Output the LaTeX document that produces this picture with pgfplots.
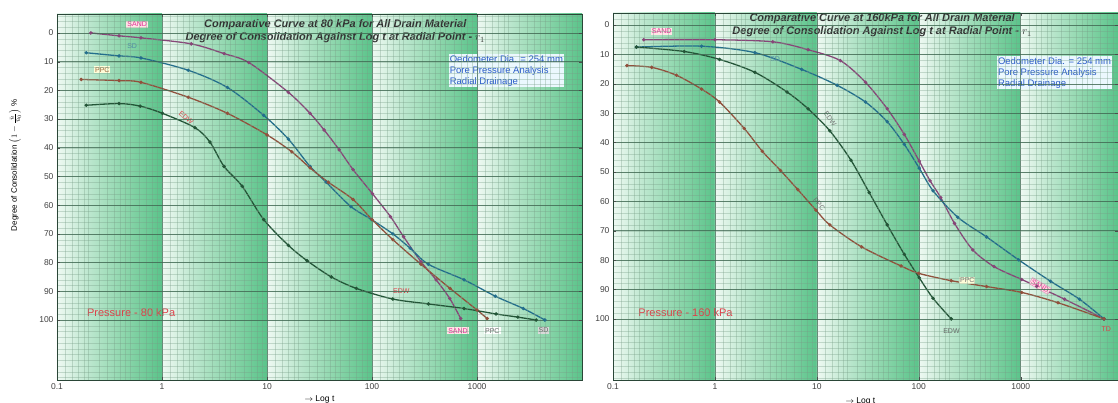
\documentclass[border=0pt]{standalone}
\usepackage{pgfplots}
\pgfplotsset{compat=1.18}
\usepackage{fontspec}
\setmainfont{Liberation Sans}
\definecolor{bandL}{RGB}{238,249,242}
\definecolor{bandM}{RGB}{188,231,206}
\definecolor{bandMD}{RGB}{138,213,170}
\definecolor{bandD}{RGB}{90,196,138}
\definecolor{gridD}{RGB}{60,100,78}
\definecolor{gridL}{RGB}{120,158,135}
\definecolor{sandC}{RGB}{135,70,120}
\definecolor{sdC}{RGB}{35,110,140}
\definecolor{ppcC}{RGB}{145,80,60}
\definecolor{edwC}{RGB}{35,85,55}
\definecolor{labSand}{RGB}{225,40,150}
\definecolor{labRed}{RGB}{225,60,70}
\definecolor{labBlue}{RGB}{40,90,200}
\definecolor{labBrown}{RGB}{150,100,60}
\definecolor{titC}{RGB}{50,50,50}
\pgfdeclarehorizontalshading{decade}{100bp}{color(0bp)=(bandL); color(25bp)=(bandL); color(40bp)=(bandM); color(58bp)=(bandMD); color(75bp)=(bandD); color(100bp)=(bandD)}
\def\mxt{0.12,0.14,0.16,0.18,0.2,0.25,0.3,0.35,0.4,0.45,0.5,0.6,0.7,0.8,0.9,1.2,1.4,1.6,1.8,2,2.5,3,3.5,4,4.5,5,6,7,8,9,12,14,16,18,20,25,30,35,40,45,50,60,70,80,90,120,140,160,180,200,250,300,350,400,450,500,600,700,800,900,1200,1400,1600,1800,2000,2500,3000,3500,4000,4500,5000,6000,7000,8000,9000}
\tikzset{mylab/.style={font=\fontsize{7}{8}\selectfont, inner sep=1pt}}
\begin{document}
\begin{tikzpicture}
\useasboundingbox (0,0) rectangle (1118pt,403pt);
% ---------------- Left panel: 80 kPa ----------------
\begin{axis}[xmode=log, scale only axis, y dir=reverse, axis on top, clip=false,
    at={(57pt,23pt)}, anchor=south west, width=525pt, height=366pt,
    xmin=0.1, xmax=10000, ymin=-6.6, ymax=120.9,
    xtick={0.1,1,10,100,1000,10000}, xticklabels={0.1,1,10,100,1000,},
    ytick={0,10,...,100},
    minor xtick/.expanded={\mxt},
    minor ytick={-6,-4,...,120},
    grid=both,
    major grid style={draw=gridD, line width=0.55pt, opacity=0.75},
    minor grid style={draw=gridL, line width=0.25pt, opacity=0.35},
    axis line style={draw=gridD!70!black, line width=0.5pt},
    tick style={draw=black!70}, minor tick length=0pt, major tick length=3pt,
    tick label style={font=\fontsize{8.5}{9}\selectfont, text=black!75},
    /pgf/number format/assume math mode=true]
\shade[shading=decade] (axis cs:0.1,-6.6) rectangle (axis cs:1,120.9);
\shade[shading=decade] (axis cs:1,-6.6) rectangle (axis cs:10,120.9);
\shade[shading=decade] (axis cs:10,-6.6) rectangle (axis cs:100,120.9);
\shade[shading=decade] (axis cs:100,-6.6) rectangle (axis cs:1000,120.9);
\shade[shading=decade] (axis cs:1000,-6.6) rectangle (axis cs:10000,120.9);
% SAND
\addplot[line width=1.3pt, smooth, tension=0.5, mark=*, mark size=1.0pt, sandC, mark options={fill=sandC!70!black}] coordinates {
(0.21,0) (0.39,1) (0.63,1.7) (1.9,3.8) (3.9,7.2) (6.7,10.3) (16,20.7) (25.7,28) (35,33.8) (48.7,40.7) (66,47.6) (101,56) (150,64) (200,71) (293,79.7) (408,86) (550,92.5) (700,99.5)};
% SD
\addplot[line width=1.3pt, smooth, tension=0.5, mark=*, mark size=1.0pt, sdC, mark options={fill=sdC!70!black}] coordinates {
(0.19,6.9) (0.39,8) (0.63,8.7) (1.78,13) (4.2,19) (9.3,28.7) (16,37) (25.7,46.5) (36.6,52) (63,60.5) (99,65) (158,70) (231,75) (345,80.6) (753,86) (1493,91.7) (2760,96) (4430,100)};
% PPC
\addplot[line width=1.3pt, smooth, tension=0.5, mark=*, mark size=1.0pt, ppcC, mark options={fill=ppcC!70!black}] coordinates {
(0.17,16.2) (0.39,16.6) (0.63,17.2) (1.78,22.4) (4.2,28) (10,35.5) (17.2,41.4) (25.7,47) (38.4,52) (66,58) (100,65) (158,72) (293,80.6) (554,89) (1000,96.5) (1250,99.5)};
% EDW
\addplot[line width=1.3pt, smooth, tension=0.5, mark=*, mark size=1.0pt, edwC, mark options={fill=edwC!70!black}] coordinates {
(0.19,25.2) (0.39,24.6) (0.62,25.5) (1.01,28) (2.06,33) (2.86,38) (3.9,46.5) (5.8,53.4) (9.3,65) (16,74) (24,79.3) (41,85) (71,89) (158,92.7) (345,94.4) (753,96) (1520,97.9) (2450,99) (3660,100)};
% curve labels
\node[mylab, text=labSand, fill=pink!40] at (axis cs:0.58,-3) {SAND};
\node[mylab, text=sdC!80] at (axis cs:0.52,4.6) {SD};
\node[mylab, text=labBrown, fill=yellow!15] at (axis cs:0.27,12.8) {PPC};
\node[mylab, text=labRed, rotate=-40] at (axis cs:1.7,29.5) {EDW};
\node[mylab, text=labRed] at (axis cs:190,89.8) {EDW};
\node[mylab, text=labSand, fill=pink!40] at (axis cs:660,103.8) {SAND};
\node[mylab, text=black!60, fill=white] at (axis cs:1400,103.8) {PPC};
\node[mylab, text=black!60, fill=white!70!gray] at (axis cs:4300,103.5) {SD};
% texts
\node[font=\fontsize{11}{13}\selectfont\bfseries\itshape, text=titC, align=center] at (axis description cs:0.53,0.952)
  {Comparative Curve at 80 kPa for All Drain Material\\Degree of Consolidation Against Log t at Radial Point - $r_1$};
\node[font=\fontsize{9.5}{11}\selectfont, text=labBlue, align=left, anchor=north west, fill=cyan!8, inner sep=1pt] at (axis description cs:0.746,0.89)
  {Oedometer Dia. = 254 mm\\Pore Pressure Analysis\\Radial Drainage};
\node[font=\fontsize{11}{12}\selectfont, text=labRed, anchor=west, inner sep=0pt] at (axis description cs:0.057,0.183) {Pressure - 80 kPa};
\node[font=\fontsize{8}{9}\selectfont, rotate=90] at (axis description cs:-0.08,0.587)
  {Degree of Consolidation $\left(1-\frac{\bar u}{\bar u_0}\right)$ \%};
\node[font=\fontsize{8.5}{9}\selectfont] at (axis description cs:0.5,-0.052) {$\rightarrow$ Log t};
\end{axis}
% ---------------- Right panel: 160 kPa ----------------
\begin{axis}[xmode=log, scale only axis, y dir=reverse, axis on top, clip=false,
    at={(613pt,23pt)}, anchor=south west, width=505pt, height=367pt,
    xmin=0.1, xmax=9000, ymin=-4.1, ymax=120.8,
    xtick={0.1,1,10,100,1000}, xticklabels={0.1,1,10,100,1000},
    ytick={0,10,...,100},
    minor xtick/.expanded={\mxt},
    minor ytick={-4,-2,...,120},
    grid=both,
    major grid style={draw=gridD, line width=0.55pt, opacity=0.75},
    minor grid style={draw=gridL, line width=0.25pt, opacity=0.35},
    axis line style={draw=gridD!70!black, line width=0.5pt},
    tick style={draw=black!70}, minor tick length=0pt, major tick length=3pt,
    tick label style={font=\fontsize{8.5}{9}\selectfont, text=black!75},
    /pgf/number format/assume math mode=true]
\shade[shading=decade] (axis cs:0.1,-4.1) rectangle (axis cs:1,120.8);
\shade[shading=decade] (axis cs:1,-4.1) rectangle (axis cs:10,120.8);
\shade[shading=decade] (axis cs:10,-4.1) rectangle (axis cs:100,120.8);
\shade[shading=decade] (axis cs:100,-4.1) rectangle (axis cs:1000,120.8);
\shade[shading=decade] (axis cs:1000,-4.1) rectangle (axis cs:9000,120.8);
% SAND
\addplot[line width=1.3pt, smooth, tension=0.5, mark=*, mark size=1.0pt, sandC, mark options={fill=sandC!70!black}] coordinates {
(0.2,5) (1,5) (3.7,5.7) (8.2,8.4) (17,12.1) (30,19.5) (49,28.5) (72,37.2) (101,46.3) (129,53) (164,58.7) (224,67.5) (338,76.5) (547,82.2) (1023,86.6) (1436,88.9) (2690,93.3) (6560,100)};
% SD
\addplot[line width=1.3pt, smooth, tension=0.5, mark=*, mark size=1.0pt, sdC, mark options={fill=sdC!70!black}] coordinates {
(0.17,7.5) (0.74,7.2) (2.47,9.4) (7.1,15.1) (15.8,20.5) (30,26.2) (49,32.9) (72,40.6) (101,48.7) (138,56.4) (241,65.4) (462,72.1) (953,79.9) (1963,87.2) (3770,93.3) (6560,100)};
% EDW
\addplot[line width=1.3pt, smooth, tension=0.5, mark=*, mark size=1.0pt, edwC, mark options={fill=edwC!70!black}] coordinates {
(0.17,7.5) (0.5,9) (1.11,11.7) (2.47,16.1) (5.1,22.8) (8.2,28.5) (13.4,36) (21.6,46) (32.6,57) (49,68) (72,78) (101,86) (138,93) (208,100)};
% PPC
\addplot[line width=1.3pt, smooth, tension=0.5, mark=*, mark size=1.0pt, ppcC, mark options={fill=ppcC!70!black}] coordinates {
(0.137,13.8) (0.24,14.4) (0.42,17.1) (0.74,21.8) (1.11,26.2) (1.94,35.2) (2.92,43) (4.4,49.5) (6.5,56) (9.8,63) (13.4,68) (27.5,75.5) (67,82) (100,84.5) (208,87) (462,89) (1023,91) (2320,94.5) (6560,100)};
% curve labels
\node[mylab, text=labSand, fill=pink!40] at (axis cs:0.3,2.2) {SAND};
\node[mylab, text=sdC!80] at (axis cs:3.9,11.5) {SD};
\node[mylab, text=black!55, rotate=-55] at (axis cs:13.5,32) {EDW};
\node[mylab, text=black!55, rotate=-50] at (axis cs:10.5,61) {PPC};
\node[mylab, text=black!60] at (axis cs:209,104.3) {EDW};
\node[mylab, text=black!55, fill=yellow!15] at (axis cs:299,86.8) {PPC};
\node[mylab, text=labSand, fill=pink!45, draw=labSand!60, rotate=-30] at (axis cs:1550,88.8) {SAND};
\node[mylab, text=labRed] at (axis cs:6900,103.6) {TD};
% texts
\node[font=\fontsize{11}{13}\selectfont\bfseries\itshape, text=titC, align=center] at (axis description cs:0.533,0.966)
  {Comparative Curve at 160kPa for All Drain Material\\Degree of Consolidation Against Log t at Radial Point - $r_1$};
\node[font=\fontsize{9.5}{11}\selectfont, text=labBlue, align=left, anchor=north west, fill=cyan!8, inner sep=1pt] at (axis description cs:0.76,0.883)
  {Oedometer Dia. = 254 mm\\Pore Pressure Analysis\\Radial Drainage};
\node[font=\fontsize{11}{12}\selectfont, text=labRed, anchor=west, inner sep=0pt] at (axis description cs:0.05,0.183) {Pressure - 160 kPa};
\node[font=\fontsize{8.5}{9}\selectfont] at (axis description cs:0.49,-0.058) {$\rightarrow$ Log t};
\end{axis}
\end{tikzpicture}
\end{document}
